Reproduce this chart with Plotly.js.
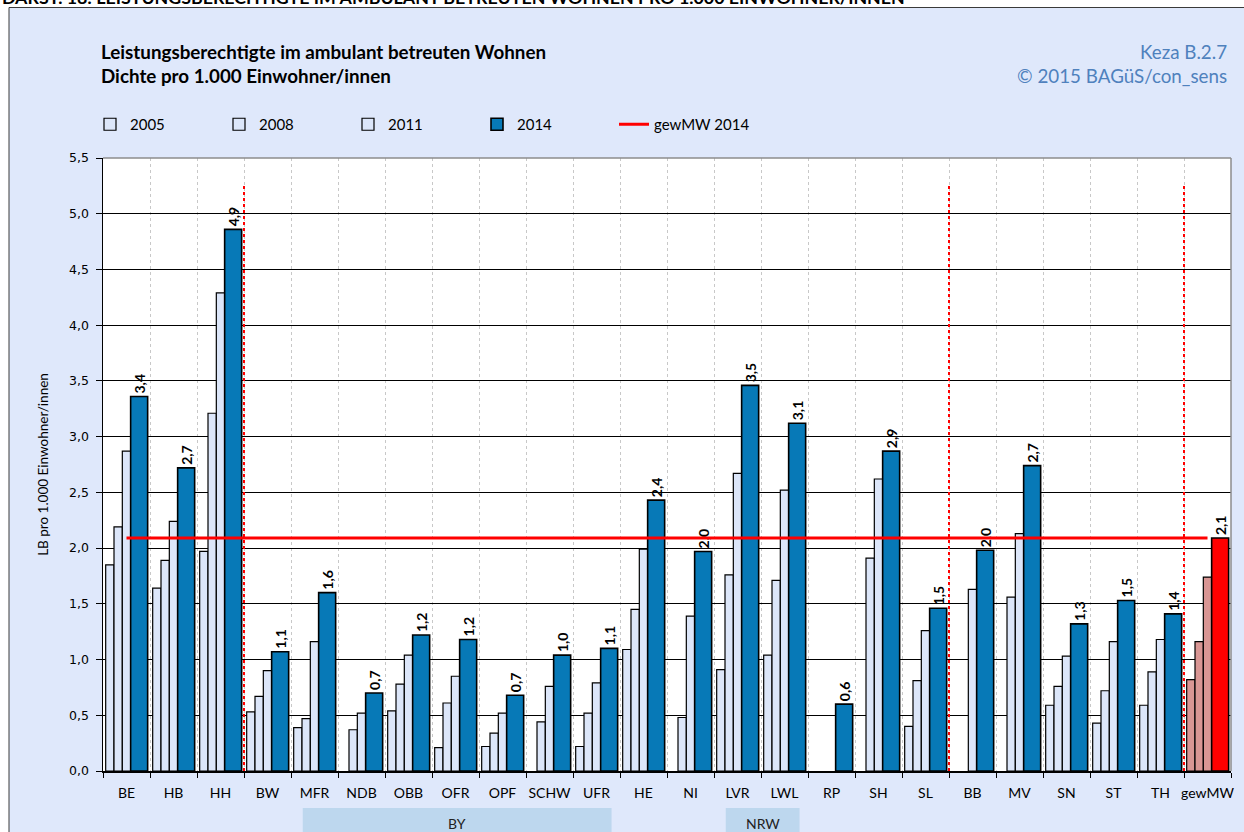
<!DOCTYPE html>
<html>
<head>
<meta charset="utf-8">
<script src="https://cdn.plot.ly/plotly-3.0.1.min.js"></script>
<style>
html,body{margin:0;padding:0;background:#ffffff;}
#chart{width:1244px;height:832px;}
</style>
</head>
<body>
<div id="chart"></div>
<script>
// ---- data ----
const categories = ['BE','HB','HH','BW','MFR','NDB','OBB','OFR','OPF','SCHW','UFR','HE','NI','LVR','LWL','RP','SH','SL','BB','MV','SN','ST','TH','gewMW'];
const v2005 = [1.85,1.64,1.97,0.53,0.39,null,0.54,0.21,0.22,null,0.22,1.09,null,0.91,1.04,null,null,0.40,null,null,0.59,0.43,0.59,0.82];
const v2008 = [2.19,1.89,3.21,0.67,0.47,0.37,0.78,0.61,0.34,0.44,0.52,1.45,0.48,1.76,1.71,null,1.91,0.81,null,1.56,0.76,0.72,0.89,1.16];
const v2011 = [2.87,2.24,4.29,0.90,1.16,0.52,1.04,0.85,0.52,0.76,0.79,1.99,1.39,2.67,2.52,null,2.62,1.26,1.63,2.13,1.03,1.16,1.18,1.74];
const v2014 = [3.36,2.72,4.86,1.07,1.60,0.70,1.22,1.18,0.68,1.04,1.10,2.43,1.97,3.46,3.12,0.60,2.87,1.46,1.98,2.74,1.32,1.53,1.41,2.09];
const seriesNames = ['2005','2008','2011','2014'];
const meanName = 'gewMW 2014';
const meanCategory = 'gewMW';
const separatorsAfter = ['HH','SL','TH'];
const groups = [{label:'BY', first:'MFR', last:'UFR'}, {label:'NRW', first:'LVR', last:'LWL'}];

// ---- styles ----
const LIGHT = '#dce6f9', PINK = '#d99694', BLUE = '#0779b7', RED = '#ff0000';
const BG = '#dfe8fb';
const FONT = 'Lato, "Open Sans", sans-serif';

const L = 103, R = 1231, T = 158, B = 771, W = 1244, H = 832;
const px2x = p => (p - L) / (R - L);
const px2y = p => (B - p) / (B - T);

function lightColors() { return categories.map(c => c === meanCategory ? PINK : LIGHT); }
function fmt(v) { return v == null ? '' : v.toFixed(1).replace('.', ','); }

const geo = [
  {off:-0.443, w:0.177},
  {off:-0.266, w:0.177},
  {off:-0.089, w:0.177},
  {off: 0.088, w:0.362}
];
const vals = [v2005, v2008, v2011, v2014];

const traces = [];
for (let i = 0; i < 3; i++) {
  traces.push({
    type:'bar', name:seriesNames[i], x:categories, y:vals[i],
    offset:geo[i].off, width:geo[i].w,
    marker:{color:lightColors(), line:{color:'#000000', width:1.2}},
    hoverinfo:'x+y', legend:'legend'
  });
}
traces.push({
  type:'bar', name:seriesNames[3], x:categories, y:v2014,
  offset:geo[3].off, width:geo[3].w,
  marker:{color:categories.map(c => c === meanCategory ? RED : BLUE), line:{color:'#000000', width:1.6}},
  text:v2014.map(fmt), textposition:'outside', textangle:-90, constraintext:'none',
  textfont:{family:FONT, size:14, color:'#000000', weight:'bold'},
  cliponaxis:false, hoverinfo:'x+y', legend:'legend'
});
const meanVal = v2014[categories.indexOf(meanCategory)];
traces.push({
  type:'scatter', mode:'lines', name:meanName, x:categories,
  y:categories.map(() => meanVal),
  line:{color:RED, width:3}, hoverinfo:'y', legend:'legend2'
});

const shapes = [];
// outer frame + white margins
shapes.push({type:'rect', xref:'paper', yref:'paper', x0:px2x(-5), x1:px2x(9), y0:px2y(H+10), y1:px2y(-5), fillcolor:'#ffffff', line:{width:0}, layer:'above'});
shapes.push({type:'rect', xref:'paper', yref:'paper', x0:px2x(-5), x1:px2x(W+10), y0:px2y(7), y1:px2y(-5), fillcolor:'#ffffff', line:{width:0}, layer:'above'});
shapes.push({type:'rect', xref:'paper', yref:'paper', x0:px2x(9), x1:px2x(W+20), y0:px2y(H+20), y1:px2y(7.5), fillcolor:'rgba(0,0,0,0)', line:{color:'#3a3a3a', width:1}, layer:'above'});
// plot border top / right
shapes.push({type:'line', xref:'paper', yref:'paper', x0:0, x1:1, y0:1, y1:1, line:{color:'#8c8c8c', width:1.5}});
shapes.push({type:'line', xref:'paper', yref:'paper', x0:1, x1:1, y0:0, y1:1, line:{color:'#8c8c8c', width:1.5}});
// red dotted separators
separatorsAfter.forEach(c => {
  const xi = categories.indexOf(c) + 0.5;
  shapes.push({type:'line', xref:'x', yref:'y', x0:xi, x1:xi, y0:0, y1:5.26, line:{color:RED, width:2, dash:'dot'}, layer:'above'});
});
// group boxes
const annotations = [];
groups.forEach(g => {
  const a = categories.indexOf(g.first) - 0.25, b = categories.indexOf(g.last) + 0.32;
  shapes.push({type:'rect', xref:'x', yref:'paper', x0:a, x1:b, y0:px2y(845), y1:px2y(808), fillcolor:'#bdd7ee', line:{width:0}, layer:'above'});
  annotations.push({xref:'x', yref:'paper', x:(a+b)/2, y:px2y(823), text:g.label, showarrow:false, font:{family:FONT, size:14, color:'#222222'}, xanchor:'center', yanchor:'middle'});
});

annotations.push({xref:'paper', yref:'paper', x:px2x(99), y:px2y(52), xanchor:'left', yanchor:'middle', showarrow:false,
  text:'Leistungsberechtigte im ambulant betreuten Wohnen', font:{family:FONT, size:18.8, color:'#000000', weight:'bold'}});
annotations.push({xref:'paper', yref:'paper', x:px2x(99), y:px2y(75), xanchor:'left', yanchor:'middle', showarrow:false,
  text:'Dichte pro 1.000 Einwohner/innen', font:{family:FONT, size:18.8, color:'#000000', weight:'bold'}});
annotations.push({xref:'paper', yref:'paper', x:px2x(1229), y:px2y(52), xanchor:'right', yanchor:'middle', showarrow:false,
  text:'Keza B.2.7', font:{family:FONT, size:18.8, color:'#4f81bd'}});
annotations.push({xref:'paper', yref:'paper', x:px2x(1229), y:px2y(75), xanchor:'right', yanchor:'middle', showarrow:false,
  text:'© 2015 BAGüS/con_sens', font:{family:FONT, size:18.8, color:'#4f81bd'}});
annotations.push({xref:'paper', yref:'paper', x:px2x(0), y:px2y(-3), xanchor:'left', yanchor:'middle', showarrow:false,
  text:'DARST. 18: LEISTUNGSBERECHTIGTE IM AMBULANT BETREUTEN WOHNEN PRO 1.000 EINWOHNER/INNEN', font:{family:FONT, size:17.8, color:'#000000', weight:'bold'}});

const layout = {
  width:W, height:H,
  margin:{l:L, r:W-R, t:T, b:H-B, pad:0},
  paper_bgcolor:BG, plot_bgcolor:'#ffffff',
  separators:',.',
  barmode:'overlay',
  font:{family:FONT, size:13, color:'#000000'},
  showlegend:true,
  legend:{orientation:'h', x:px2x(90), y:px2y(108), xanchor:'left', yanchor:'top',
    bgcolor:'rgba(0,0,0,0)', font:{family:FONT, size:15}, entrywidth:84, itemwidth:30, traceorder:'normal', tracegroupgap:0},
  legend2:{orientation:'h', x:px2x(614), y:px2y(108), xanchor:'left', yanchor:'top',
    bgcolor:'rgba(0,0,0,0)', font:{family:FONT, size:15}, itemwidth:30},
  xaxis:{type:'category', categoryorder:'array', categoryarray:categories, range:[-0.5, categories.length-0.5],
    tickson:'boundaries', ticks:'outside', ticklen:5, tickcolor:'#000000', tickwidth:1, tickangle:0,
    showgrid:true, gridcolor:'#c8c8c8', griddash:'dot', gridwidth:1,
    showline:true, linecolor:'#000000', linewidth:1.5,
    tickfont:{family:FONT, size:14, color:'#000000'}, ticklabelstandoff:9, fixedrange:true},
  yaxis:{range:[0,5.5], dtick:0.5, tick0:0, tickformat:'.1f', ticks:'outside', ticklen:6, tickcolor:'#000000',
    showgrid:true, gridcolor:'#000000', gridwidth:1, zeroline:false,
    showline:true, linecolor:'#000000', linewidth:1.5,
    tickfont:{family:'"DejaVu Sans", Verdana, sans-serif', size:12.5, color:'#000000'}, ticklabelstandoff:4,
    title:{text:'LB pro 1.000 Einwohner/innen', font:{family:FONT, size:13.5, color:'#000000'}, standoff:17}, fixedrange:true},
  shapes:shapes, annotations:annotations
};

Plotly.newPlot('chart', traces, layout, {displayModeBar:false, staticPlot:true});
</script>
</body>
</html>
